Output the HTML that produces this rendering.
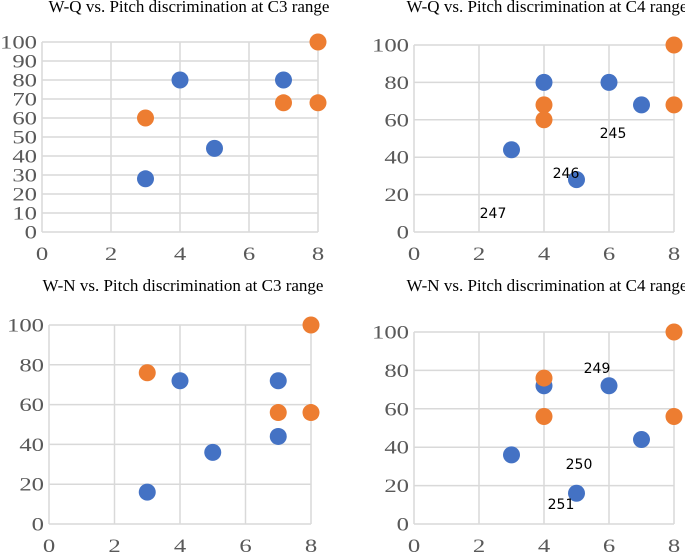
<!DOCTYPE html>
<html><head><meta charset="utf-8">
<style>
html,body{margin:0;padding:0;background:#fff;}
svg{display:block;}
.tick{font-family:"Liberation Serif",serif;fill:#595959;}
.title{font-family:"Liberation Serif",serif;fill:#000;font-size:17px;}
.ann{font-family:"DejaVu Sans","Liberation Sans",sans-serif;fill:#000;font-size:14px;}
</style></head>
<body>
<svg id="chart" width="685" height="552" viewBox="0 0 685 552" xmlns="http://www.w3.org/2000/svg"></svg>
<script>
// Panel 1: W-Q C3
const wqC3BlueX=[3,4,5,7];
const wqC3BlueY=[28,80,44,80];
const wqC3OrangeX=[3,7,8,8];
const wqC3OrangeY=[60,68,68,100];
// Panel 2: W-Q C4
const wqC4BlueX=[3,4,5,6,7];
const wqC4BlueY=[44,80,28,80,68];
const wqC4OrangeX=[4,4,8,8];
const wqC4OrangeY=[68,60,100,68];
// Panel 3: W-N C3
const wnC3BlueX=[3,4,5,7,7];
const wnC3BlueY=[16,72,36,72,44];
const wnC3OrangeX=[3,7,8,8];
const wnC3OrangeY=[76,56,56,100];
// Panel 4: W-N C4
const wnC4BlueX=[3,4,5,6,7];
const wnC4BlueY=[36,72,16,72,44];
const wnC4OrangeX=[4,4,8,8];
const wnC4OrangeY=[76,56,100,56];
const xTicks=[0,2,4,6,8];
const yTicksFine=[0,10,20,30,40,50,60,70,80,90,100];
const yTicksCoarse=[0,20,40,60,80,100];
const titles=["W-Q vs. Pitch discrimination at C3 range","W-Q vs. Pitch discrimination at C4 range","W-N vs. Pitch discrimination at C3 range","W-N vs. Pitch discrimination at C4 range"];

const NS="http://www.w3.org/2000/svg";
const svg=document.getElementById('chart');
function mk(tag,attrs,parent){const e=document.createElementNS(NS,tag);for(const k in attrs)e.setAttribute(k,attrs[k]);(parent||svg).appendChild(e);return e;}

const panels=[
 {x0:42,x1:318,y0:232,y1:42,yt:yTicksFine,fs:19,tx:189,ty:12,bx:wqC3BlueX,by:wqC3BlueY,ox:wqC3OrangeX,oy:wqC3OrangeY,ann:[],name:'wq-c3'},
 {x0:414,x1:674,y0:232,y1:45,yt:yTicksCoarse,fs:19,tx:547,ty:12,bx:wqC4BlueX,by:wqC4BlueY,ox:wqC4OrangeX,oy:wqC4OrangeY,ann:[["245",613,138],["246",566,178],["247",493,218]],name:'wq-c4'},
 {x0:49,x1:311,y0:524,y1:325,yt:yTicksCoarse,fs:19,tx:183,ty:291,bx:wnC3BlueX,by:wnC3BlueY,ox:wnC3OrangeX,oy:wnC3OrangeY,ann:[],name:'wn-c3'},
 {x0:414,x1:674,y0:524,y1:332,yt:yTicksCoarse,fs:19,tx:547,ty:291,bx:wnC4BlueX,by:wnC4BlueY,ox:wnC4OrangeX,oy:wnC4OrangeY,ann:[["249",597,373],["250",579,469],["251",561,509]],name:'wn-c4'}
];

panels.forEach((p,i)=>{
 const g=mk('g',{});
 
 
 const sx=v=>p.x0+(v-0)/(8-0)*(p.x1-p.x0);
 const sy=v=>p.y0-(v-0)/(100-0)*(p.y0-p.y1);
 const t=mk('text',{x:p.tx,y:p.ty,'text-anchor':'middle',class:'title'},g);
 t.textContent=titles[i];
 
 
 p.yt.forEach(v=>{
  const l=mk('line',{x1:p.x0,x2:p.x1,y1:sy(v),y2:sy(v),stroke:'#d9d9d9','stroke-width':1.5},g);
  
  
  const tl=mk('text',{x:0,y:0,'text-anchor':'end',class:'tick','font-size':p.fs,transform:`translate(${p.x0-5},${sy(v)+6.5}) scale(1.3,1)`},g);
  tl.textContent=v;
  
  
 });
 xTicks.forEach(v=>{
  const l=mk('line',{x1:sx(v),x2:sx(v),y1:p.y0,y2:p.y1,stroke:'#d9d9d9','stroke-width':1.5},g);
  
  
  const tl=mk('text',{x:0,y:0,'text-anchor':'middle',class:'tick','font-size':19,transform:`translate(${sx(v)},${p.y0+28}) scale(1.3,1)`},g);
  tl.textContent=v;
  
  
 });
 p.bx.forEach((v,j)=>{
  const c=mk('circle',{cx:sx(v),cy:sy(p.by[j]),r:8.5,fill:'#4472C4'},g);
  
  
 });
 p.ox.forEach((v,j)=>{
  const c=mk('circle',{cx:sx(v),cy:sy(p.oy[j]),r:8.5,fill:'#ED7D31'},g);
  
  
 });
 p.ann.forEach(a=>{
  const tx=mk('text',{x:a[1],y:a[2],'text-anchor':'middle',class:'ann'},g);
  tx.textContent=a[0];
  
  
 });
});
</script>
</body></html>
